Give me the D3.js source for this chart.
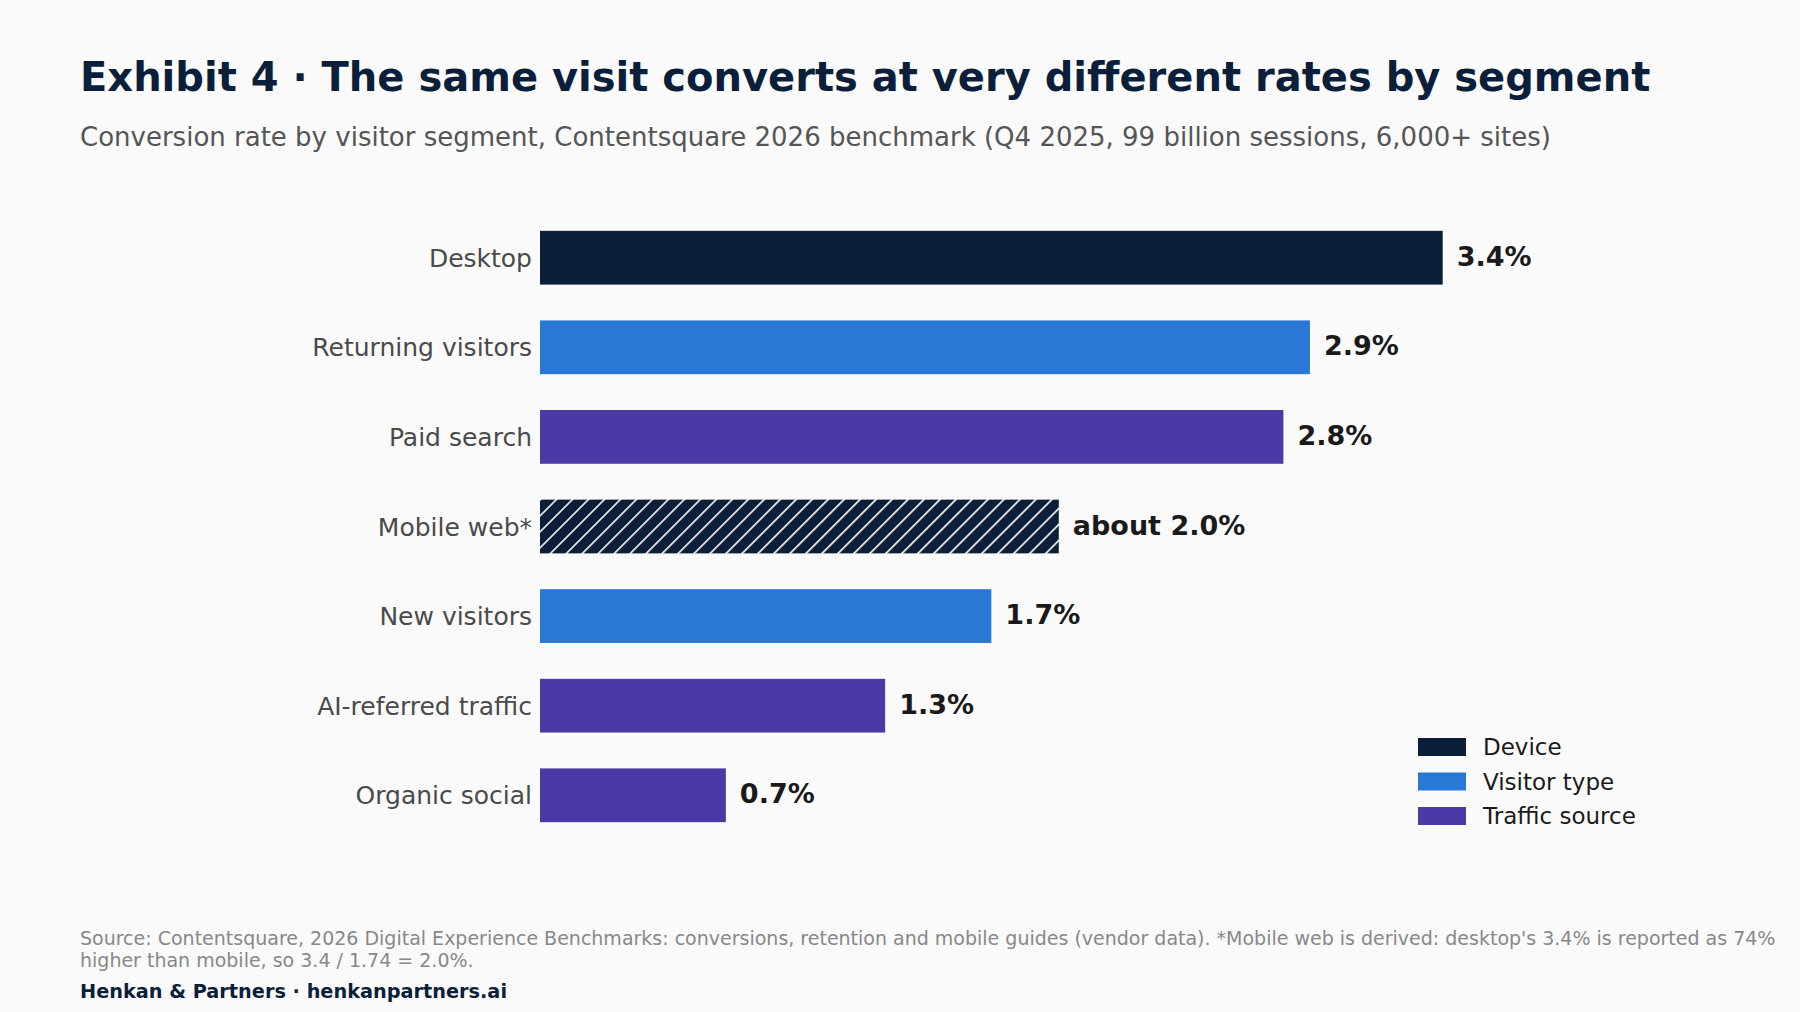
<!DOCTYPE html>
<html lang="en">
<head>
    <meta charset="UTF-8">
    <title>Exhibit 4</title>
    <style>
        html, body { margin: 0; padding: 0; background: #fafafa; }
        svg { display: block; font-family: "DejaVu Sans", sans-serif; }
    </style>
</head>
<body>
    <svg width="1800" height="1012"></svg>

    <script src="https://d3js.org/d3.v7.min.js"></script>
    <script>
        // chart data
        var segments = ["Desktop", "Returning visitors", "Paid search", "Mobile web*", "New visitors", "AI-referred traffic", "Organic social"];
        var rates = [3.4, 2.9, 2.8, 3.4 / 1.74, 1.7, 1.3, 0.7];
        var valueLabels = ["3.4%", "2.9%", "2.8%", "about 2.0%", "1.7%", "1.3%", "0.7%"];
        var groups = ["Device", "Visitor type", "Traffic source", "Device", "Visitor type", "Traffic source", "Traffic source"];
        var derived = [false, false, false, true, false, false, false];
        var legendGroups = ["Device", "Visitor type", "Traffic source"];

        var svg = d3.select("svg");

        var color = d3.scaleOrdinal()
            .domain(legendGroups)
            .range(["#0b1f3a", "#2a78d6", "#4a3aa6"]);

        var x = d3.scaleLinear().domain([0, 4]).range([540, 1602]);
        var y = d3.scaleBand().domain(segments).range([195, 858]).padding(0.4);

        // hatch for the derived bar
        var pat = svg.append("defs").append("pattern")
            .attr("id", "hatch")
            .attr("patternUnits", "userSpaceOnUse")
            .attr("width", 11.3)
            .attr("height", 11.3)
            .attr("patternTransform", "rotate(45)");
        pat.append("rect")
            .attr("width", 11.3).attr("height", 11.3)
            .attr("fill", color("Device"));
        pat.append("line")
            .attr("x1", 0).attr("y1", 0).attr("x2", 0).attr("y2", 11.3)
            .attr("stroke", "#ffffff").attr("stroke-width", 3.2);

        // title + subtitle
        svg.append("text")
            .attr("x", 80).attr("y", 91)
            .attr("font-size", 40).attr("font-weight", "bold")
            .attr("fill", "#0b1f3a")
            .text("Exhibit 4 \u00b7 The same visit converts at very different rates by segment");

        svg.append("text")
            .attr("x", 80).attr("y", 146)
            .attr("font-size", 26)
            .attr("fill", "#555555")
            .text("Conversion rate by visitor segment, Contentsquare 2026 benchmark (Q4 2025, 99 billion sessions, 6,000+ sites)");

        var rows = svg.selectAll(".row")
            .data(segments)
            .enter().append("g")
            .attr("class", "row");

        rows.append("rect")
            .attr("x", x(0))
            .attr("y", d => y(d))
            .attr("width", (d, i) => x(rates[i]) - x(0))
            .attr("height", y.bandwidth())
            .attr("fill", (d, i) => derived[i] ? "url(#hatch)" : color(groups[i]));

        // category labels
        rows.append("text")
            .attr("x", x(0) - 8)
            .attr("y", d => y(d) + y.bandwidth() / 2)
            .attr("dy", "0.36em")
            .attr("text-anchor", "end")
            .attr("font-size", 25)
            .attr("fill", "#4a4a4a")
            .text(d => d);

        // value labels
        rows.append("text")
            .attr("x", (d, i) => x(rates[i]) + 14)
            .attr("y", d => y(d) + y.bandwidth() / 2)
            .attr("dy", "0.3em")
            .attr("font-size", 27)
            .attr("font-weight", "bold")
            .attr("fill", "#1a1a1a")
            .text((d, i) => valueLabels[i]);

        // legend
        var legend = svg.append("g")
            .attr("transform", "translate(1418,738)");

        var item = legend.selectAll("g")
            .data(legendGroups).enter()
            .append("g")
            .attr("transform", (d, i) => "translate(0," + i * 34.5 + ")");

        item.append("rect")
            .attr("width", 48)
            .attr("height", 18)
            .attr("fill", d => color(d));

        item.append("text")
            .attr("x", 65)
            .attr("y", 9)
            .attr("dy", "0.36em")
            .attr("font-size", 23)
            .attr("fill", "#1a1a1a")
            .text(d => d);

        // footer
        var note = svg.append("text")
            .attr("x", 80).attr("y", 945)
            .attr("font-size", 19)
            .attr("fill", "#888888");
        note.append("tspan")
            .attr("x", 80)
            .text("Source: Contentsquare, 2026 Digital Experience Benchmarks: conversions, retention and mobile guides (vendor data). *Mobile web is derived: desktop's 3.4% is reported as 74%");
        note.append("tspan")
            .attr("x", 80).attr("dy", 22)
            .text("higher than mobile, so 3.4 / 1.74 = 2.0%.");

        svg.append("text")
            .attr("x", 80).attr("y", 998)
            .attr("font-size", 19.3)
            .attr("font-weight", "bold")
            .attr("fill", "#0b1f3a")
            .text("Henkan & Partners \u00b7 henkanpartners.ai");
    </script>
</body>
</html>
